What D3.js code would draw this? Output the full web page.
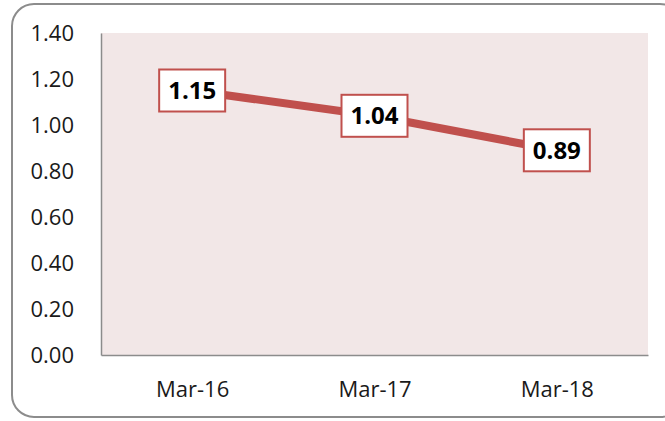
<!DOCTYPE html>
<html>
<head>
<meta charset="utf-8">
<script src="https://cdn.jsdelivr.net/npm/d3@7"></script>
<style>
  body { margin: 0; background: #fff; }
  svg { display: block; }
</style>
</head>
<body>
<div id="chart"></div>
<script>
// Chart data
var categories = ["Mar-16", "Mar-17", "Mar-18"];
var values = [1.15, 1.04, 0.89];
var yTicks = [0, 0.2, 0.4, 0.6, 0.8, 1.0, 1.2, 1.4];

var svgWidth = 665;
var svgHeight = 421;

var margin = { top: 33, right: 17, bottom: 66, left: 101 };
var width = svgWidth - margin.left - margin.right;
var height = svgHeight - margin.top - margin.bottom;

var svg = d3.select("#chart")
  .append("svg")
  .attr("width", svgWidth)
  .attr("height", svgHeight);

// Outer rounded frame (runs off the right edge)
svg.append("rect")
  .attr("x", 12)
  .attr("y", 4)
  .attr("width", 670)
  .attr("height", 413)
  .attr("rx", 22)
  .attr("fill", "#fff")
  .attr("stroke", "#8c8c8c")
  .attr("stroke-width", 2);

var chartGroup = svg.append("g")
  .attr("transform", `translate(${margin.left}, ${margin.top})`);

// Plot area background
chartGroup.append("rect")
  .attr("width", width)
  .attr("height", height)
  .attr("fill", "#f2e7e7");

// Scales
var xScale = d3.scalePoint()
  .domain(categories)
  .range([0, width])
  .padding(0.5);

var yScale = d3.scaleLinear()
  .domain([0, 1.4])
  .range([height, 0]);

// Axes
var leftAxis = d3.axisLeft(yScale)
  .tickValues(yTicks)
  .tickFormat(d3.format(".2f"))
  .tickSize(0)
  .tickPadding(27);

var bottomAxis = d3.axisBottom(xScale)
  .tickSize(0)
  .tickPadding(26);

var yAxis = chartGroup.append("g").call(leftAxis);
var xAxis = chartGroup.append("g")
  .attr("transform", `translate(0, ${height})`)
  .call(bottomAxis);

[yAxis, xAxis].forEach(function(ax) {
  ax.select(".domain").attr("stroke", "#8c8c8c").attr("stroke-width", 1.5);
  ax.selectAll("text")
    .attr("fill", "#1a1a1a")
    .style("font-family", "'Open Sans', sans-serif")
    .style("font-size", "22px");
});

// Line
var line = d3.line()
  .x((d, i) => xScale(categories[i]))
  .y(d => yScale(d));

chartGroup.append("path")
  .datum(values)
  .attr("d", line)
  .attr("fill", "none")
  .attr("stroke", "#c0504d")
  .attr("stroke-width", 8);

// Data labels
var labels = chartGroup.selectAll(".label")
  .data(values)
  .enter()
  .append("g")
  .attr("transform", (d, i) => `translate(${xScale(categories[i])}, ${yScale(d)})`);

labels.append("rect")
  .attr("x", -33)
  .attr("y", -21)
  .attr("width", 66)
  .attr("height", 42)
  .attr("fill", "#fff")
  .attr("stroke", "#c0504d")
  .attr("stroke-width", 2);

labels.append("text")
  .attr("text-anchor", "middle")
  .attr("dy", "0.36em")
  .style("font-family", "'Open Sans', sans-serif")
  .style("font-weight", "bold")
  .style("font-size", "24px")
  .attr("fill", "#000")
  .text(d => d.toFixed(2));
</script>
</body>
</html>
